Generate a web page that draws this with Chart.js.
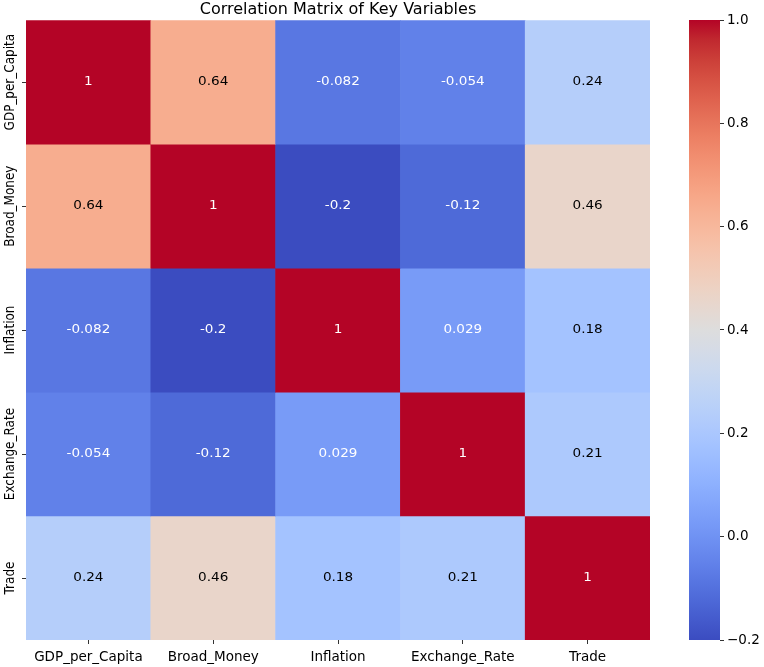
<!DOCTYPE html>
<html>
<head>
<meta charset="utf-8">
<script src="https://cdn.jsdelivr.net/npm/chart.js@4.4.1/dist/chart.umd.min.js"></script>
<style>
  body { margin: 0; background: #fff; overflow: hidden; }
  #wrap { position: relative; width: 764px; height: 667px; }
  canvas { position: absolute; left: 0; top: 0; }
</style>
</head>
<body>
<div id="wrap">
  <canvas id="heatChart" width="764" height="667"></canvas>
  <canvas id="barraColor" width="764" height="667"></canvas>
</div>
<script>
// === Datos ===
const variables = ['GDP_per_Capita', 'Broad_Money', 'Inflation', 'Exchange_Rate', 'Trade'];
const filaGDP = [1, 0.64, -0.082, -0.054, 0.24];
const filaMoney = [0.64, 1, -0.2, -0.12, 0.46];
const filaInflation = [-0.082, -0.2, 1, 0.029, 0.18];
const filaExchange = [-0.054, -0.12, 0.029, 1, 0.21];
const filaTrade = [0.24, 0.46, 0.18, 0.21, 1];
const matriz = [filaGDP, filaMoney, filaInflation, filaExchange, filaTrade];
const ticksBarra = [-0.2, 0, 0.2, 0.4, 0.6, 0.8, 1.0];
const vmin = -0.2;
const vmax = 1.0;

// coolwarm (Moreland) en 33 pasos
const coolwarm = [
  [59,76,192],[68,90,204],[77,104,215],[87,117,225],[98,130,234],[108,142,241],
  [119,154,247],[130,165,251],[141,176,254],[152,185,255],[163,194,255],[174,201,253],
  [184,208,249],[194,213,244],[204,217,238],[213,219,230],[221,221,221],[229,216,209],
  [236,211,197],[241,204,185],[245,196,173],[247,187,160],[247,177,148],[247,166,135],
  [244,154,123],[241,141,111],[236,127,99],[229,112,88],[222,96,77],[213,80,66],
  [203,62,56],[192,40,47],[180,4,38]
];

const rgbCoolwarm = (t) => {
  t = Math.max(0, Math.min(1, t));
  const pos = t * (coolwarm.length - 1);
  const i = Math.min(Math.floor(pos), coolwarm.length - 2);
  const f = pos - i;
  const a = coolwarm[i], b = coolwarm[i + 1];
  return [0, 1, 2].map(k => Math.round(a[k] + (b[k] - a[k]) * f));
};

const colorPorValor = (v) => {
  const c = rgbCoolwarm((v - vmin) / (vmax - vmin));
  return `rgb(${c[0]},${c[1]},${c[2]})`;
};

// Color del texto como en seaborn (luminancia relativa)
const colorTexto = (v) => {
  const c = rgbCoolwarm((v - vmin) / (vmax - vmin)).map(x => {
    x = x / 255;
    return x <= 0.03928 ? x / 12.92 : Math.pow((x + 0.055) / 1.055, 2.4);
  });
  const lum = 0.2126 * c[0] + 0.7152 * c[1] + 0.0722 * c[2];
  return lum > 0.408 ? '#000' : '#fff';
};

const formato = (v) => parseFloat(v.toPrecision(2)).toString();

const fuente = 'DejaVu Sans';

// === Plugin: anotaciones y etiquetas del eje Y ===
const anotaciones = {
  id: 'anotaciones',
  afterDatasetsDraw(chart) {
    const ctx = chart.ctx;
    ctx.save();
    ctx.font = `11.8px "${fuente}"`;
    ctx.textAlign = 'center';
    ctx.textBaseline = 'middle';
    matriz.forEach((fila, r) => {
      const meta = chart.getDatasetMeta(r);
      meta.data.forEach((bar, c) => {
        ctx.save();
        ctx.translate(bar.x, (bar.y + bar.base) / 2);
        ctx.scale(1.15, 1); // el original está algo estirado en horizontal
        ctx.fillStyle = colorTexto(fila[c]);
        ctx.fillText(formato(fila[c]), 0, 0);
        ctx.restore();
      });
    });
    ctx.restore();
  },
  afterDraw(chart) {
    const ctx = chart.ctx;
    const escala = chart.scales.y;
    ctx.save();
    ctx.font = `12px "${fuente}"`;
    ctx.fillStyle = '#000';
    ctx.textAlign = 'center';
    ctx.textBaseline = 'middle';
    variables.forEach((nombre, i) => {
      ctx.save();
      ctx.translate(10, escala.getPixelForValue(i + 0.5));
      ctx.rotate(-Math.PI / 2);
      ctx.scale(1, 1.15);
      ctx.fillText(nombre, 0, 0);
      ctx.restore();
    });
    ctx.restore();
  }
};

// === Mapa de calor (barras flotantes) ===
const datasets = matriz.map((fila, r) => ({
  label: variables[r],
  data: variables.map(() => [r, r + 1]),
  backgroundColor: fila.map(v => colorPorValor(v)),
  borderWidth: 0,
  barPercentage: 1,
  categoryPercentage: 1
}));

new Chart(document.getElementById('heatChart'), {
  type: 'bar',
  data: { labels: variables, datasets: datasets },
  options: {
    responsive: false,
    animation: false,
    layout: { padding: { left: 26, right: 114, top: 0, bottom: 0 } },
    plugins: {
      legend: { display: false },
      tooltip: { enabled: false },
      title: {
        display: true,
        text: 'Correlation Matrix of Key Variables',
        color: '#000',
        font: { family: fuente, size: 16, weight: 'normal', lineHeight: 1.2 },
        padding: { top: 0, bottom: 1 }
      }
    },
    scales: {
      x: {
        stacked: true,
        border: { display: false },
        grid: { offset: false, drawOnChartArea: false, drawTicks: true, tickLength: 4, color: '#333' },
        ticks: { color: '#000', font: { family: fuente, size: 13.5 }, padding: 5, maxRotation: 0, minRotation: 0 },
        afterFit: (s) => { s.height = 27; }
      },
      y: {
        stacked: false,
        reverse: true,
        min: 0,
        max: 5,
        border: { display: false },
        grid: { drawOnChartArea: false, drawTicks: true, tickLength: 4, color: '#333' },
        ticks: { display: false },
        afterBuildTicks: (s) => { s.ticks = variables.map((_, i) => ({ value: i + 0.5 })); },
        afterFit: (s) => { s.width = 0; }
      }
    }
  },
  plugins: [anotaciones]
});

// === Barra de color ===
new Chart(document.getElementById('barraColor'), {
  type: 'bar',
  data: {
    labels: ['escala'],
    datasets: [{
      data: [[vmin, vmax]],
      barPercentage: 1,
      categoryPercentage: 1,
      borderWidth: 0,
      backgroundColor: (context) => {
        const area = context.chart.chartArea;
        if (!area) return null;
        const g = context.chart.ctx.createLinearGradient(0, area.bottom, 0, area.top);
        coolwarm.forEach((c, i) => g.addColorStop(i / (coolwarm.length - 1), `rgb(${c[0]},${c[1]},${c[2]})`));
        return g;
      }
    }]
  },
  options: {
    responsive: false,
    animation: false,
    layout: { padding: { left: 689, right: 0, top: 20, bottom: 27 } },
    plugins: { legend: { display: false }, tooltip: { enabled: false }, title: { display: false } },
    scales: {
      x: { display: false },
      y: {
        position: 'right',
        min: vmin,
        max: vmax,
        border: { display: false },
        grid: { drawOnChartArea: false, drawTicks: true, tickLength: 4, color: '#333' },
        afterBuildTicks: (s) => { s.ticks = ticksBarra.map(v => ({ value: v })); },
        ticks: {
          color: '#000',
          font: { family: fuente, size: 13.5 },
          padding: 3,
          callback: (v) => (v < 0 ? '\u2212' : '') + Math.abs(v).toFixed(1)
        },
        afterFit: (s) => { s.width = 44; }
      }
    }
  }
});
</script>
</body>
</html>
